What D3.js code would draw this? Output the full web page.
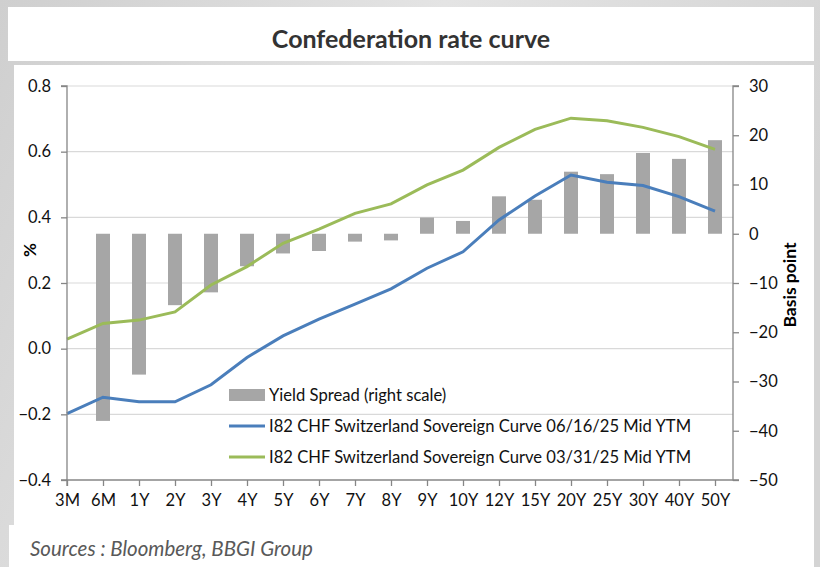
<!DOCTYPE html>
<html>
<head>
<meta charset="utf-8">
<script src="https://cdn.jsdelivr.net/npm/d3@7"></script>
<style>
  body { margin: 0; background: #d8d8d8; }
  svg { display: block; font-family: Lato, "Open Sans", sans-serif; }
</style>
</head>
<body>
<div id="chart"></div>
<script>
var tenors = ["3M","6M","1Y","2Y","3Y","4Y","5Y","6Y","7Y","8Y","9Y","10Y","12Y","15Y","20Y","25Y","30Y","40Y","50Y"];
var curveJune = [-0.198,-0.148,-0.162,-0.162,-0.110,-0.027,0.039,0.090,0.136,0.182,0.245,0.295,0.392,0.465,0.529,0.507,0.497,0.463,0.419];
var curveMarch = [0.029,0.077,0.087,0.112,0.194,0.250,0.321,0.364,0.412,0.441,0.499,0.544,0.613,0.668,0.702,0.694,0.674,0.646,0.607];
var spread = [null,-38.0,-28.6,-14.5,-11.9,-6.6,-4.0,-3.5,-1.6,-1.35,3.3,2.6,7.6,6.9,12.6,12.1,16.4,15.2,19.0];
var leftTicks = [0.8,0.6,0.4,0.2,0.0,-0.2,-0.4];
var rightTicks = [30,20,10,0,-10,-20,-30,-40,-50];

var svgWidth = 820, svgHeight = 567;
var plot = { left: 67, right: 733, top: 86, bottom: 480 };

var svg = d3.select("#chart").append("svg")
    .attr("width", svgWidth)
    .attr("height", svgHeight);

// background + white panels
var bg = svg.append("defs").append("linearGradient")
    .attr("id", "bg").attr("x1", 0).attr("x2", 1).attr("y1", 0).attr("y2", 0.3);
bg.append("stop").attr("offset", "0").attr("stop-color", "#cfcfcf");
bg.append("stop").attr("offset", "0.5").attr("stop-color", "#e4e4e4");
bg.append("stop").attr("offset", "1").attr("stop-color", "#d4d4d4");
svg.append("rect").attr("width", svgWidth).attr("height", svgHeight).attr("fill", "url(#bg)");
svg.append("rect").attr("x", 8).attr("y", 7).attr("width", 806).attr("height", 54).attr("fill", "#fff");
svg.append("rect").attr("x", 14).attr("y", 65).attr("width", 800).attr("height", 462).attr("fill", "#fff");
svg.append("rect").attr("x", 9).attr("y", 525).attr("width", 805).attr("height", 42).attr("fill", "#fff");

svg.append("text")
    .attr("x", 411).attr("y", 48)
    .attr("text-anchor", "middle")
    .attr("font-size", 25).attr("font-weight", "bold")
    .attr("fill", "#333")
    .text("Confederation rate curve");

var x = d3.scalePoint().domain(tenors).range([plot.left, 715]);
var yLeft = d3.scaleLinear().domain([-0.4, 0.8]).range([plot.bottom, plot.top]);
var yRight = d3.scaleLinear().domain([-50, 30]).range([plot.bottom, plot.top]);

// gridlines
svg.append("g").selectAll("line")
    .data(leftTicks.filter(d => d > -0.4))
    .enter().append("line")
    .attr("x1", plot.left).attr("x2", plot.right)
    .attr("y1", d => yLeft(d)).attr("y2", d => yLeft(d))
    .attr("stroke", "#d9d9d9").attr("stroke-width", 1.2);

// bars
var barW = 14;
svg.append("g").selectAll("rect")
    .data(tenors.map((t, i) => ({ t: t, v: spread[i] })).filter(d => d.v !== null))
    .enter().append("rect")
    .attr("x", d => x(d.t) - barW / 2)
    .attr("width", barW)
    .attr("y", d => yRight(Math.max(0, d.v)))
    .attr("height", d => Math.abs(yRight(d.v) - yRight(0)))
    .attr("fill", "#a6a6a6");

// lines
var line = d3.line()
    .x(d => x(d.t))
    .y(d => yLeft(d.v));
svg.append("path")
    .datum(tenors.map((t, i) => ({ t: t, v: curveMarch[i] })))
    .attr("d", line).attr("fill", "none")
    .attr("stroke", "#9bbb59").attr("stroke-width", 3);
svg.append("path")
    .datum(tenors.map((t, i) => ({ t: t, v: curveJune[i] })))
    .attr("d", line).attr("fill", "none")
    .attr("stroke", "#4a7ebb").attr("stroke-width", 3);

// axes
var axisColor = "#868686";
var leftAxis = d3.axisLeft(yLeft).tickValues(leftTicks).tickFormat(d3.format(".1f")).tickSize(6).tickPadding(10);
var rightAxis = d3.axisRight(yRight).tickValues(rightTicks).tickSize(6).tickPadding(10);
var bottomAxis = d3.axisBottom(x).tickSize(6).tickPadding(8);

function styleAxis(g) {
    g.select(".domain").attr("stroke", axisColor).attr("stroke-width", 1.3);
    g.selectAll(".tick line").attr("stroke", axisColor).attr("stroke-width", 1.3);
    g.selectAll(".tick text").attr("fill", "#111").attr("font-size", 16.5)
        .attr("font-family", "Lato, 'Open Sans', sans-serif");
}

svg.append("g").attr("transform", `translate(${plot.left},0)`)
    .call(leftAxis).call(styleAxis)
    .call(g => g.select(".domain").attr("d", `M-6,${plot.top}H0V${plot.bottom}H-6`));
svg.append("g").attr("transform", `translate(${plot.right},0)`)
    .call(rightAxis).call(styleAxis)
    .call(g => g.select(".domain").attr("d", `M6,${plot.top}H0V${plot.bottom}H6`));
svg.append("g").attr("transform", `translate(0,${plot.bottom})`)
    .call(bottomAxis).call(styleAxis)
    .call(g => g.select(".domain").attr("d", `M${plot.left},6V0H${plot.right}`));

// axis titles
svg.append("text")
    .attr("transform", "translate(36,250) rotate(-90)")
    .attr("text-anchor", "middle")
    .attr("font-size", 17).attr("font-weight", "bold")
    .text("%");
svg.append("text")
    .attr("transform", "translate(796,285) rotate(-90)")
    .attr("text-anchor", "middle")
    .attr("font-size", 17.5).attr("font-weight", "bold")
    .text("Basis point");

// legend
var legendItems = [
    { label: "Yield Spread (right scale)", type: "bar", color: "#a6a6a6" },
    { label: "I82 CHF Switzerland Sovereign Curve 06/16/25 Mid YTM", type: "line", color: "#4a7ebb" },
    { label: "I82 CHF Switzerland Sovereign Curve 03/31/25 Mid YTM", type: "line", color: "#9bbb59" }
];
var legend = svg.append("g").selectAll("g")
    .data(legendItems)
    .enter().append("g")
    .attr("transform", (d, i) => `translate(229,${395 + i * 31})`);
legend.filter(d => d.type === "bar").append("rect")
    .attr("x", 0).attr("y", -6).attr("width", 36).attr("height", 12)
    .attr("fill", d => d.color);
legend.filter(d => d.type === "line").append("line")
    .attr("x1", 0).attr("x2", 36).attr("y1", 0).attr("y2", 0)
    .attr("stroke", d => d.color).attr("stroke-width", 3);
legend.append("text")
    .attr("x", 40).attr("y", 6)
    .attr("font-size", 16.6).attr("fill", "#111")
    .text(d => d.label);

svg.append("text")
    .attr("x", 30).attr("y", 556)
    .attr("font-size", 20.5).attr("font-style", "italic")
    .attr("fill", "#595959")
    .text("Sources : Bloomberg, BBGI Group");
</script>
</body>
</html>
